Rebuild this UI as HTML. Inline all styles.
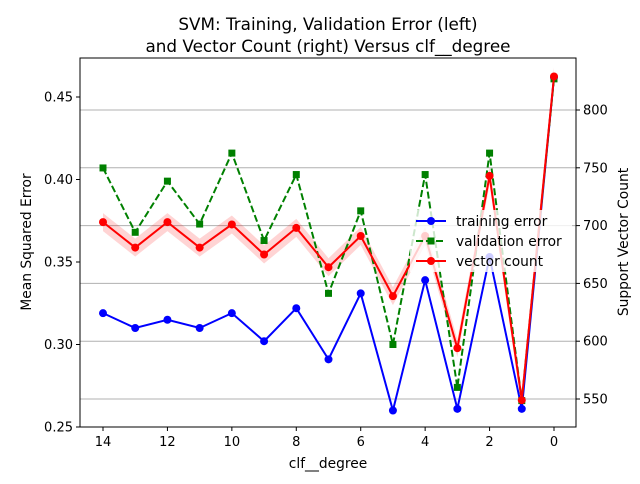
<!DOCTYPE html>
<html><head><meta charset="utf-8"><style>
body{margin:0;background:#fff;font-family:"DejaVu Sans","Liberation Sans",sans-serif;}
svg text{font-family:"DejaVu Sans","Liberation Sans",sans-serif;}
</style></head><body>
<svg id="chart" width="640" height="480" xmlns="http://www.w3.org/2000/svg">
<g id="bg"></g>
<g id="marks"></g>
<g id="axes"></g>
</svg>
<script>
const degrees=[14,13,12,11,10,9,8,7,6,5,4,3,2,1,0];
const trainErr=[0.319,0.310,0.315,0.310,0.319,0.302,0.322,0.291,0.331,0.260,0.339,0.261,0.353,0.261,0.462];
const valErr=[0.407,0.368,0.399,0.373,0.416,0.363,0.403,0.331,0.381,0.300,0.403,0.274,0.416,0.266,0.461];
const vecCount=[703,681,703,681,701,675,698,664,691,639,691,594,743,549,829];
const leftTicks=[0.25,0.30,0.35,0.40,0.45];
const rightTicks=[550,600,650,700,750,800];
const xTicks=[14,12,10,8,6,4,2,0];
const L=80,R=576,T=58,B=427;
const xs=d=>103+(14-d)*(554-103)/14;
const yl=v=>427-(v-0.25)*(330/0.2);
const yr=v=>399-(v-550)*(57.8/50);
const NS="http://www.w3.org/2000/svg";
function mk(p,tag,at,txt){const e=document.createElementNS(NS,tag);for(const k in at)e.setAttribute(k,at[k]);if(txt!==undefined)e.textContent=txt;p.appendChild(e);return e;}
const bg=document.getElementById('bg'),mg=document.getElementById('marks'),ax=document.getElementById('axes');
rightTicks.forEach(v=>{const g=mk(bg,'line',{x1:L,x2:R,y1:yr(v),y2:yr(v),stroke:'#b0b0b0','stroke-width':1});

});
let up=degrees.map((d,i)=>xs(d)+','+(yr(vecCount[i])-9)).join(' ');
let dn=degrees.map((d,i)=>xs(d)+','+(yr(vecCount[i])+9)).reverse().join(' ');
const band=mk(mg,'polygon',{points:up+' '+dn,fill:'#ff0000','fill-opacity':0.17});


const tl=mk(mg,'polyline',{points:degrees.map((d,i)=>xs(d)+','+yl(trainErr[i])).join(' '),fill:'none',stroke:'#0000ff','stroke-width':2});


degrees.forEach((d,i)=>{const c=mk(mg,'circle',{cx:xs(d),cy:yl(trainErr[i]),r:4,fill:'#0000ff'});

});
const vl=mk(mg,'polyline',{points:degrees.map((d,i)=>xs(d)+','+yl(valErr[i])).join(' '),fill:'none',stroke:'#008000','stroke-width':2,'stroke-dasharray':'7,3'});


degrees.forEach((d,i)=>{const c=mk(mg,'rect',{x:xs(d)-3.5,y:yl(valErr[i])-3.5,width:7,height:7,fill:'#008000'});

});
const rl=mk(mg,'polyline',{points:degrees.map((d,i)=>xs(d)+','+yr(vecCount[i])).join(' '),fill:'none',stroke:'#ff0000','stroke-width':2});


degrees.forEach((d,i)=>{const c=mk(mg,'circle',{cx:xs(d),cy:yr(vecCount[i]),r:4,fill:'#ff0000'});

});
const lg=mk(ax,'g',{});


mk(lg,'rect',{x:410,y:210,width:162,height:62,fill:'#fff','fill-opacity':0.8});
[['training error','#0000ff','c',''],['validation error','#008000','s','7,3'],['vector count','#ff0000','c','']].forEach((e,i)=>{
 const y=221+i*20;
 const g=mk(lg,'g',{});
 
 
 mk(g,'line',{x1:416,x2:446,y1:y,y2:y,stroke:e[1],'stroke-width':2,'stroke-dasharray':e[3]||'none'});
 if(e[2]=='c')mk(g,'circle',{cx:431,cy:y,r:4,fill:e[1]});else mk(g,'rect',{x:427.5,y:y-3.5,width:7,height:7,fill:e[1]});
 mk(g,'text',{x:456,y:y+5,'font-size':13.8},e[0]);
});
const fr=mk(ax,'rect',{x:L,y:T,width:R-L,height:B-T,fill:'none',stroke:'#000','stroke-width':1});


leftTicks.forEach(v=>{mk(ax,'line',{x1:L-4,x2:L,y1:yl(v),y2:yl(v),stroke:'#000'});
const t=mk(ax,'text',{x:L-7,y:yl(v)+4.5,'font-size':13,'text-anchor':'end'},v.toFixed(2));

});
rightTicks.forEach(v=>{mk(ax,'line',{x1:R,x2:R+4,y1:yr(v),y2:yr(v),stroke:'#000'});
const t=mk(ax,'text',{x:R+7,y:yr(v)+4.5,'font-size':13},String(v));

});
xTicks.forEach(v=>{mk(ax,'line',{x1:xs(v),x2:xs(v),y1:B,y2:B+4,stroke:'#000'});
const t=mk(ax,'text',{x:xs(v),y:B+19,'font-size':13,'text-anchor':'middle'},String(v));

});
</script>
<svg style="position:absolute;left:0;top:0" width="640" height="480" xmlns="http://www.w3.org/2000/svg">
<text x="328" y="30" font-size="16.8" text-anchor="middle">SVM: Training, Validation Error (left)</text>
<text x="328" y="52" font-size="16.8" text-anchor="middle">and Vector Count (right) Versus clf__degree</text>
<text x="328" y="468" font-size="13.8" text-anchor="middle">clf__degree</text>
<text transform="translate(31,242) rotate(-90)" font-size="13.8" text-anchor="middle">Mean Squared Error</text>
<text transform="translate(628,242) rotate(-90)" font-size="13.8" text-anchor="middle">Support Vector Count</text>
</svg>
</body></html>
